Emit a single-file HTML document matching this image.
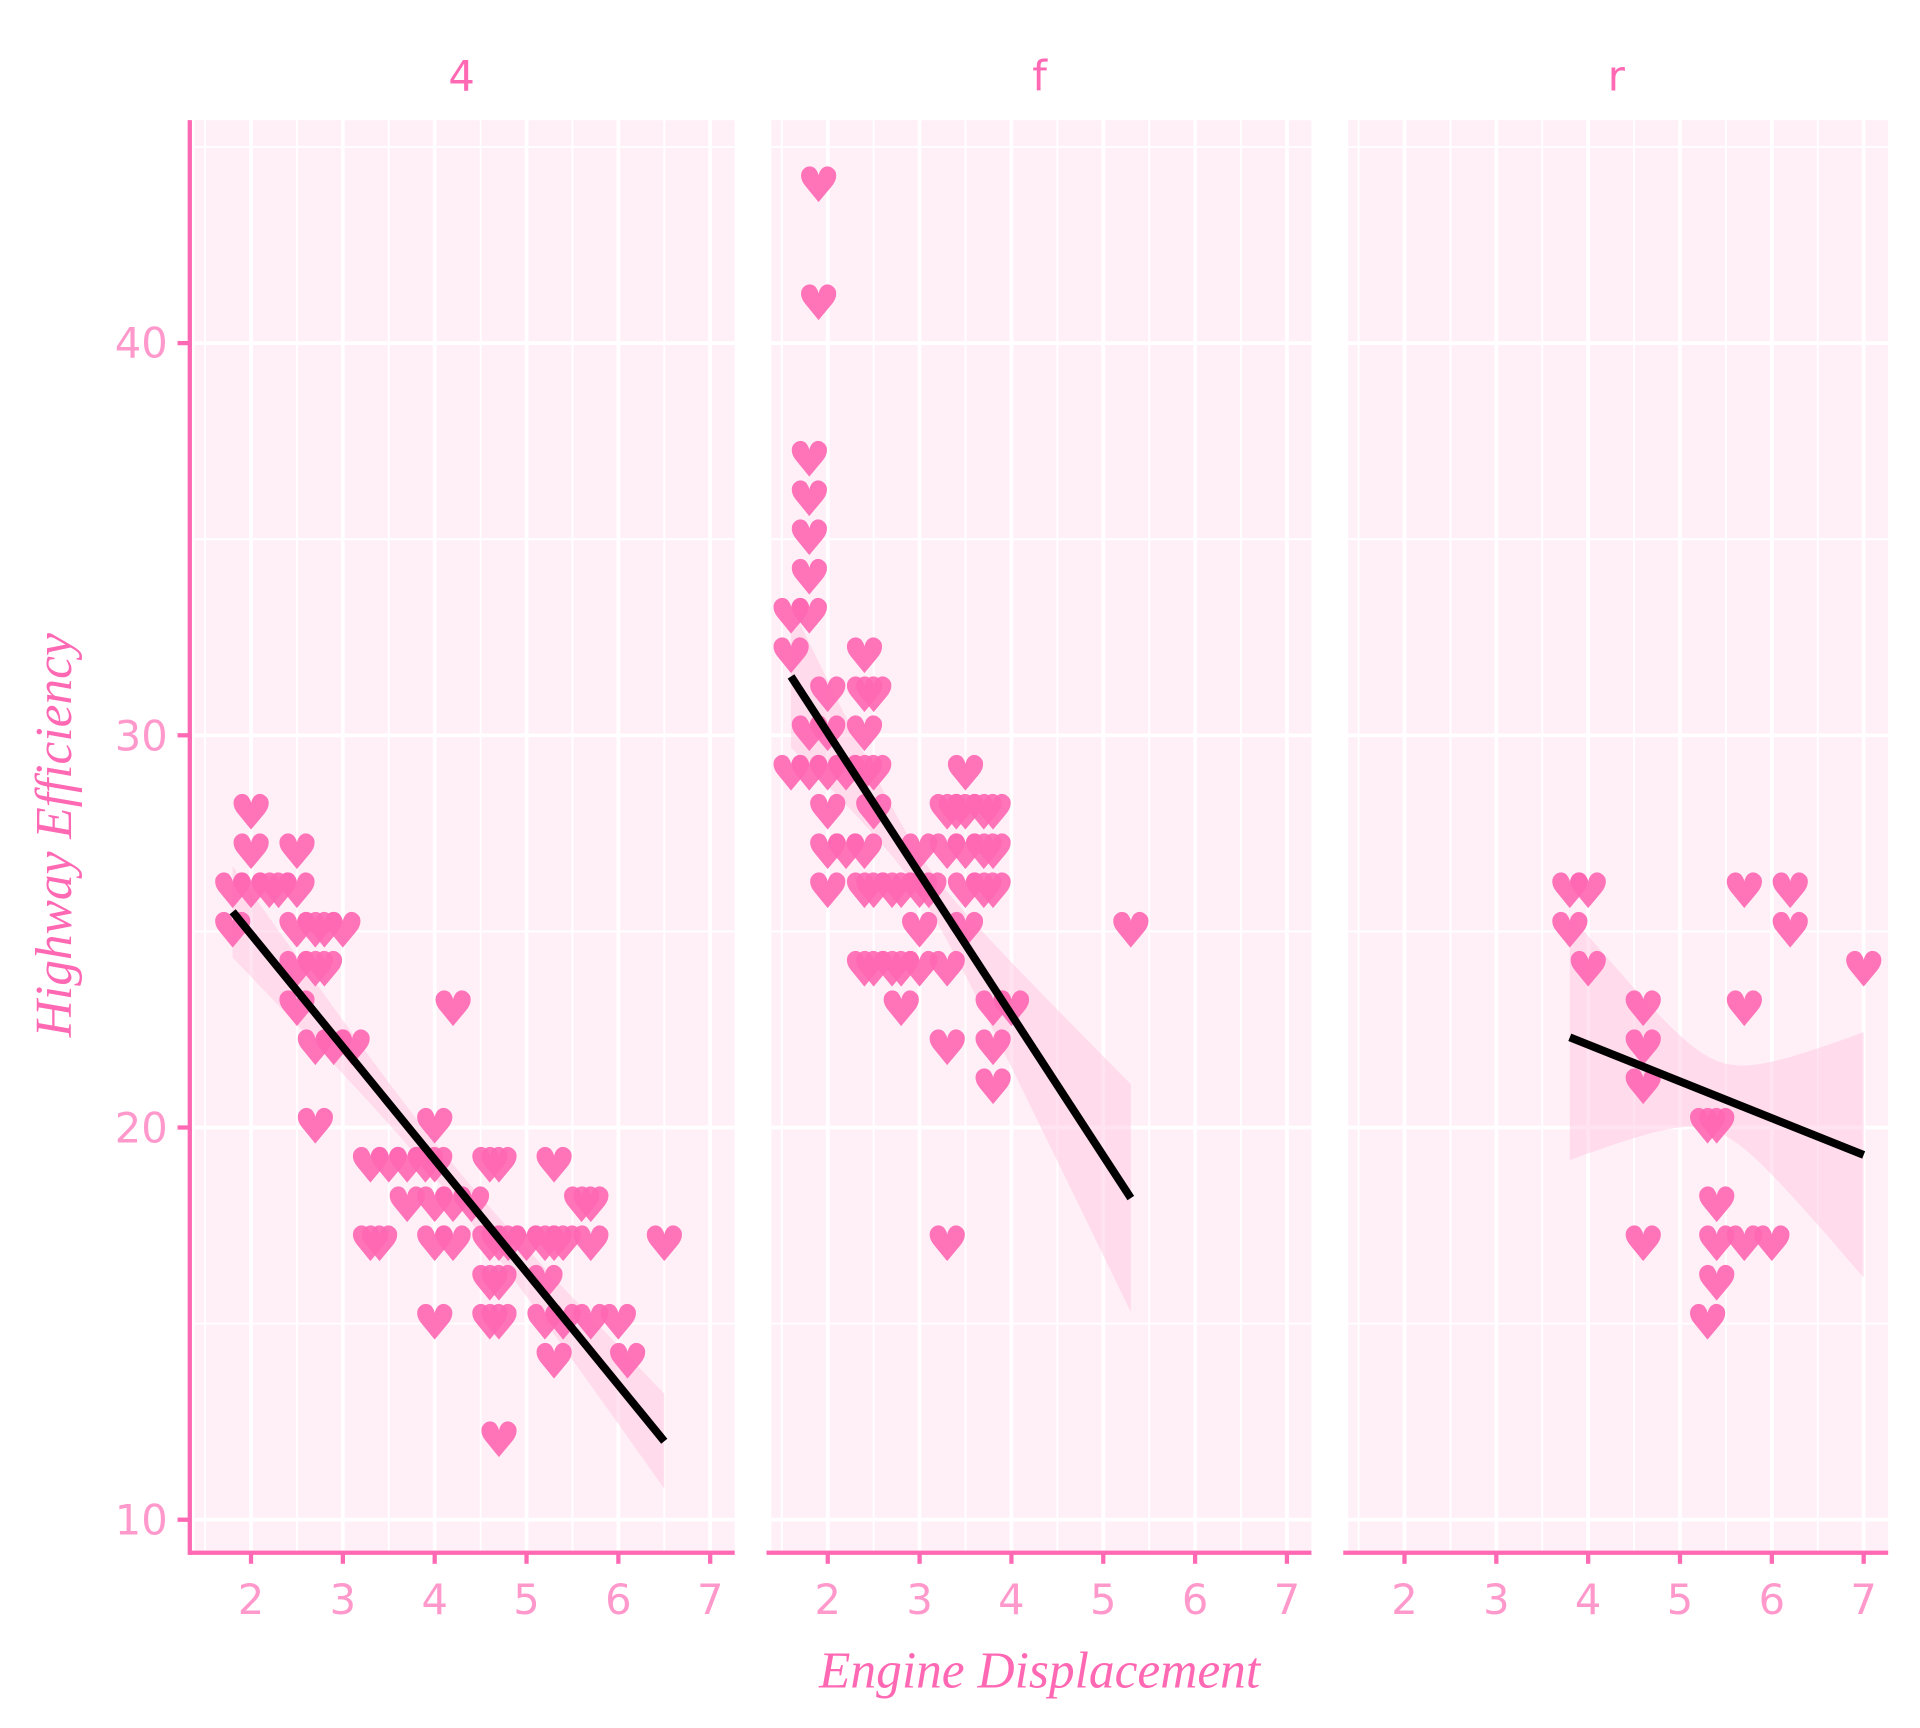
<!DOCTYPE html>
<html><head><meta charset="utf-8"><style>
html,body{margin:0;padding:0;background:#fff;}
svg{display:block;}
.t{font-family:"DejaVu Sans","Liberation Sans",sans-serif;fill:#ff99cc;font-size:34px;}
.s{font-family:"DejaVu Sans","Liberation Sans",sans-serif;fill:#ff69b4;font-size:34px;}
.ttl{font-family:"Liberation Serif",serif;font-style:italic;fill:#ff69b4;font-size:42px;}
</style></head><body>
<svg id="c" width="1920" height="1728" viewBox="0 0 1568 1411" xmlns="http://www.w3.org/2000/svg">
<g id="g"></g>
<text class="s" x="377" y="74" text-anchor="middle">4</text>
<text class="s" x="849" y="74" text-anchor="middle">f</text>
<text class="s" x="1320" y="74" text-anchor="middle">r</text>
<g class="t" text-anchor="end">
<text x="137" y="1253">10</text><text x="137" y="933">20</text><text x="137" y="613">30</text><text x="137" y="292">40</text>
</g>
<g class="t" text-anchor="middle">
<text x="205" y="1318">2</text><text x="280" y="1318">3</text><text x="355" y="1318">4</text><text x="430" y="1318">5</text><text x="505" y="1318">6</text><text x="580" y="1318">7</text>
<text x="676" y="1318">2</text><text x="751" y="1318">3</text><text x="826" y="1318">4</text><text x="901" y="1318">5</text><text x="976" y="1318">6</text><text x="1051" y="1318">7</text>
<text x="1147" y="1318">2</text><text x="1222" y="1318">3</text><text x="1297" y="1318">4</text><text x="1372" y="1318">5</text><text x="1447" y="1318">6</text><text x="1522" y="1318">7</text>
</g>
<text class="ttl" x="849" y="1378" text-anchor="middle">Engine Displacement</text>
<text class="ttl" x="0" y="0" text-anchor="middle" transform="translate(58,682) rotate(-90)">Highway Efficiency</text>
</svg>
<script>
var NS="http://www.w3.org/2000/svg",G=document.getElementById("g");
function el(n,a){var e=document.createElementNS(NS,n);for(var k in a)e.setAttribute(k,a[k]);G.appendChild(e);return e;}
var L=[155,626,1097],W=445,T=98,B=1268;
function Y(v){return 1241-(v-10)*32.03;}
var data=[
[[1.8,26],[1.8,25],[2,28],[2,27],[2,26],[2.2,26],[2.3,26],[2.5,27],[2.5,26],[2.5,25],[2.5,24],[2.5,23],[2.7,25],[2.7,24],[2.7,22],[2.7,20],[2.8,25],[2.8,24],[2.9,22],[3,25],[3.1,22],[3.3,19],[3.3,17],[3.4,17],[3.5,19],[3.7,19],[3.7,18],[3.9,19],[4,20],[4,19],[4,18],[4,17],[4,15],[4.2,23],[4.2,18],[4.2,17],[4.4,18],[4.6,19],[4.6,17],[4.6,16],[4.6,15],[4.7,19],[4.7,17],[4.7,16],[4.7,15],[4.7,12],[4.8,17],[5,17],[5.2,17],[5.2,16],[5.2,15],[5.3,19],[5.3,17],[5.3,14],[5.4,17],[5.4,15],[5.6,18],[5.7,18],[5.7,17],[5.7,15],[6,15],[6.1,14],[6.5,17]],
[[1.6,33],[1.6,32],[1.6,29],[1.8,37],[1.8,36],[1.8,35],[1.8,34],[1.8,33],[1.8,30],[1.8,29],[1.9,44],[1.9,41],[2,31],[2,30],[2,29],[2,28],[2,27],[2,26],[2.2,29],[2.2,27],[2.4,32],[2.4,31],[2.4,30],[2.4,29],[2.4,27],[2.4,26],[2.4,24],[2.5,31],[2.5,29],[2.5,28],[2.5,26],[2.5,24],[2.7,26],[2.7,24],[2.8,26],[2.8,24],[2.8,23],[3,27],[3,26],[3,25],[3,24],[3.1,26],[3.3,28],[3.3,27],[3.3,24],[3.3,22],[3.3,17],[3.4,28],[3.5,29],[3.5,28],[3.5,27],[3.5,26],[3.5,25],[3.7,28],[3.7,27],[3.7,26],[3.8,28],[3.8,27],[3.8,26],[3.8,23],[3.8,22],[3.8,21],[4,23],[5.3,25]],
[[3.8,26],[3.8,25],[4,26],[4,24],[4.6,23],[4.6,22],[4.6,21],[4.6,17],[5.3,20],[5.3,15],[5.4,20],[5.4,18],[5.4,17],[5.4,16],[5.7,26],[5.7,23],[5.7,17],[6,17],[6.2,26],[6.2,25],[7,24]]];
var fits=[[1.8,6.5,25.5,12,0.45,1.1,4.1],[1.6,5.3,31.5,18.2,0.5,2.3,3.0],[3.8,7,22.3,19.3,0.9,3.0,5.4]];
for(var p=0;p<3;p++){
 var l=L[p];function X(v){return l+50+(v-2)*75;}
 el("rect",{x:l+4,y:T,width:W-4,height:B-T,fill:"#fff0f7"});
 for(var v=1.5;v<7.3;v+=0.5){var x=X(v);if(x>l+4&&x<l+W)el("line",{x1:x,x2:x,y1:T,y2:B,stroke:"#fff",'stroke-width':(v%1==0)?3:1.5});}
 for(var v=10;v<=45;v+=5){var y=Y(v);el("line",{x1:l+4,x2:l+W,y1:y,y2:y,stroke:"#fff",'stroke-width':(v%10==0)?3:1.5});}
 var f=fits[p],up=[],dn=[];
 for(var i=0;i<=40;i++){var x=f[0]+(f[1]-f[0])*i/40,yv=f[2]+(f[3]-f[2])*(x-f[0])/(f[1]-f[0]);
  var d=Math.sqrt(f[4]*f[4]+Math.pow((x-f[6])/(f[1]-f[0])*2,2)*f[5]*f[5]);
  up.push(X(x)+","+Y(yv+d));dn.unshift(X(x)+","+Y(yv-d));}
 el("polygon",{points:up.concat(dn).join(" "),fill:"#ffc0dd",opacity:0.45});
 data[p].forEach(function(d){var t=el("text",{x:X(d[0]),y:Y(d[1])+13,'text-anchor':"middle",'font-size':40,fill:"#ff69b4",opacity:0.92,'font-family':"DejaVu Sans,sans-serif"});t.textContent="\u2665";});
 el("line",{x1:X(f[0]),y1:Y(f[2]),x2:X(f[1]),y2:Y(f[3]),stroke:"#000",'stroke-width':6.5});
 el("line",{x1:l,x2:l+W,y1:B,y2:B,stroke:"#ff69b4",'stroke-width':3.5});
 for(var v=2;v<=7;v++)el("line",{x1:X(v),x2:X(v),y1:B,y2:B+9,stroke:"#ff69b4",'stroke-width':3.5});
}
el("line",{x1:155,x2:155,y1:T,y2:B+1.75,stroke:"#ff69b4",'stroke-width':3.5});
[10,20,30,40].forEach(function(v){el("line",{x1:145,x2:155,y1:Y(v),y2:Y(v),stroke:"#ff69b4",'stroke-width':3.5});});
</script>
</body></html>
